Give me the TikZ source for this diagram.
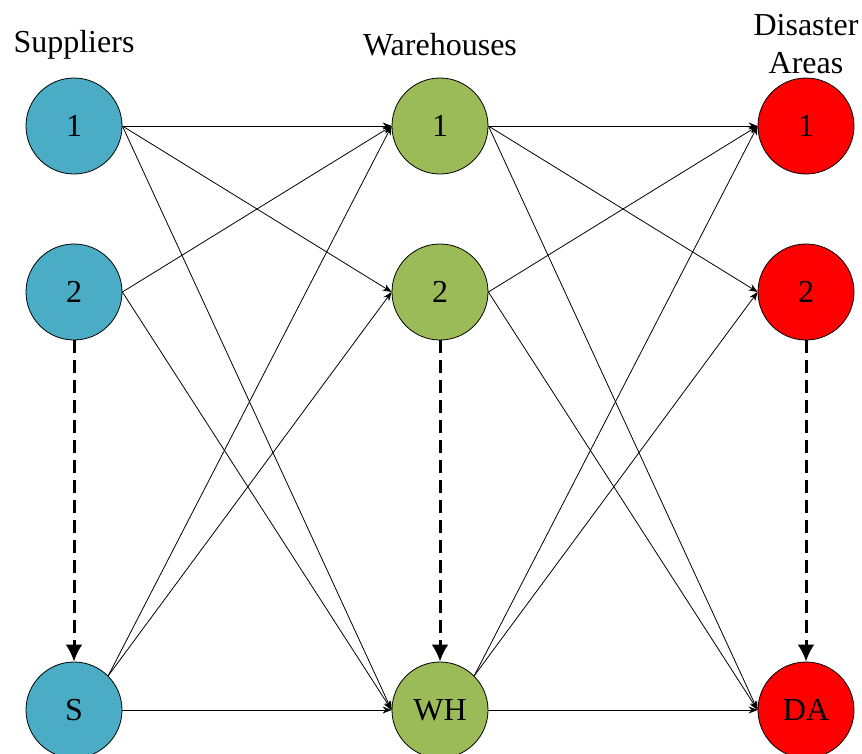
\documentclass[tikz,border=0pt]{standalone}
\usepackage{fontspec}
\setmainfont{Liberation Serif}
\usetikzlibrary{positioning, arrows.meta}
\definecolor{supblue}{HTML}{4BACC6}
\definecolor{whgreen}{HTML}{9BBB59}
\definecolor{dared}{HTML}{FF0000}
\tikzset{->,>={Stealth[length=9pt,width=7pt]},node distance=366pt,
  site/.style={circle, draw, line width=0.8pt, minimum size=96pt, inner sep=0pt, font=\fontsize{32}{38}\selectfont},
  supplier/.style={site, fill=supblue},
  warehouse/.style={site, fill=whgreen},
  area/.style={site, fill=dared},
  heading/.style={align=center, font=\fontsize{32}{38}\selectfont},
  flow/.style={line width=0.8pt},
  chain/.style={line width=3pt, dash pattern=on 13pt off 7pt, -{Latex[length=17pt,width=17pt]}}}

\begin{document}
\begin{tikzpicture}[x=1pt,y=-1pt]
\useasboundingbox (0,0) rectangle (862,753);
\node[supplier] (s1) at (74,126) {1};
\node[supplier, below of=s1, node distance=166pt] (s2) {2};
\node[supplier, below of=s2, node distance=418pt] (s3) {S};
\node[warehouse, right of=s1] (w1) {1};
\node[warehouse, right of=s2] (w2) {2};
\node[warehouse, right of=s3] (w3) {WH};
\node[area, right of=w1] (d1) {1};
\node[area, right of=w2] (d2) {2};
\node[area, right of=w3] (d3) {DA};
\node[heading] (hs) at (74,45) {Suppliers};
\node[heading] (hw) at (440,45) {Warehouses};
\node[heading] (hd) at (806,44) {Disaster\\Areas};
\path[flow] (s1.east) edge (w1.west)
(s1.east) edge (w2.west)
(s1.east) edge (w3.west)
(s2.east) edge (w1.west)
(s2.east) edge (w3.west)
(s3.north east) edge (w1.west)
(s3.north east) edge (w2.west)
(s3.east) edge (w3.west);
\path[flow] (w1.east) edge (d1.west)
(w1.east) edge (d2.west)
(w1.east) edge (d3.west)
(w2.east) edge (d1.west)
(w2.east) edge (d3.west)
(w3.north east) edge (d1.west)
(w3.north east) edge (d2.west)
(w3.east) edge (d3.west);
\draw[chain] (s2) -- (s3);
\draw[chain] (w2) -- (w3);
\draw[chain] (d2) -- (d3);
\end{tikzpicture}
\end{document}
